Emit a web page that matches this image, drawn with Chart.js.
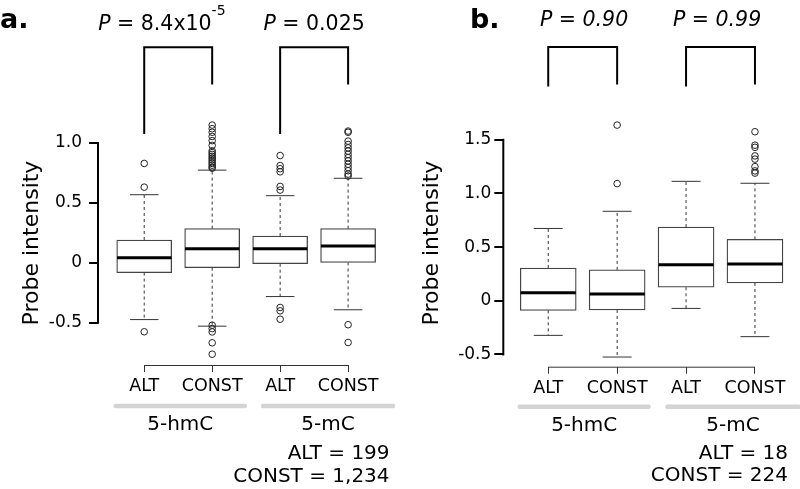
<!DOCTYPE html>
<html>
<head>
<meta charset="utf-8">
<title>Probe intensity: ALT vs CONST</title>
<script src="https://cdn.jsdelivr.net/npm/chart.js@4"></script>
<style>
  body { margin: 0; background: #fff; }
  #wrap { position: relative; width: 800px; height: 489px; }
  canvas { position: absolute; top: 0; }
</style>
</head>
<body>
<div id="wrap">
  <canvas id="panelA" width="400" height="489" style="left:0"></canvas>
  <canvas id="panelB" width="400" height="489" style="left:400px"></canvas>
</div>
<script>
const tickLabels = ['ALT', 'CONST', 'ALT', 'CONST'];
const groupLabels = ['5-hmC', '5-mC'];

// panel a
const aLowWhisker = [-0.473, -0.528, -0.281, -0.391];
const aQ1 = [-0.081, -0.040, -0.007, 0.004];
const aMedian = [0.043, 0.119, 0.119, 0.142];
const aQ3 = [0.191, 0.286, 0.224, 0.286];
const aHighWhisker = [0.569, 0.774, 0.561, 0.706];
const aOutliers = [
  [0.830, 0.632, -0.575],
  [1.15, 1.12, 1.09, 1.055, 1.02, 0.98, 0.935, 0.92, 0.905, 0.89, 0.875, 0.86, 0.845, 0.83, 0.815, 0.80, 0.79,
   -0.52, -0.548, -0.576, -0.667, -0.762],
  [0.896, 0.812, 0.786, 0.76, 0.638, 0.608, -0.372, -0.40, -0.47],
  [1.10, 1.09, 1.016, 0.988, 0.96, 0.933, 0.905, 0.878, 0.851, 0.823, 0.796, 0.769, 0.741, 0.725, -0.516, -0.664]
];
const aYTicks = [-0.5, 0, 0.5, 1.0];
const aBracketTop = [1.80, 1.80];
const aBracketLeftEnd = [1.076, 1.076];
const aBracketRightEnd = [1.488, 1.488];
const aPValues = ['8.4x10^-5', '0.025'];
const aCounts = ['ALT = 199', 'CONST = 1,234'];

// panel b
const bLowWhisker = [-0.322, -0.524, -0.071, -0.334];
const bQ1 = [-0.089, -0.086, 0.126, 0.166];
const bMedian = [0.074, 0.064, 0.337, 0.343];
const bQ3 = [0.306, 0.288, 0.687, 0.573];
const bHighWhisker = [0.674, 0.834, 1.113, 1.095];
const bOutliers = [
  [],
  [1.637, 1.092],
  [],
  [1.575, 1.45, 1.43, 1.35, 1.32, 1.25, 1.21, 1.19]
];
const bYTicks = [-0.5, 0, 0.5, 1.0, 1.5];
const bBracketTop = [2.364, 2.364];
const bBracketLeftEnd = [1.996, 1.996];
const bBracketRightEnd = [2.015, 2.015];
const bPValues = ['0.90', '0.99'];
const bCounts = ['ALT = 18', 'CONST = 224'];

const FONT = '"DejaVu Sans", "Liberation Sans", sans-serif';

function drawP(ctx, cx, baseline, value, allItalic, size) {
  const parts = value.split('^');
  const rest = ' = ' + parts[0];
  const sup = parts[1] || '';
  const ital = `italic ${size}px ${FONT}`;
  const reg = `${size}px ${FONT}`;
  const supFont = `${Math.round(size * 0.7)}px ${FONT}`;
  ctx.font = ital;
  const wP = ctx.measureText('P').width;
  ctx.font = allItalic ? ital : reg;
  const wR = ctx.measureText(rest).width;
  ctx.font = supFont;
  const wS = sup ? ctx.measureText(sup).width : 0;
  const x0 = cx - (wP + wR + wS) / 2;
  ctx.textAlign = 'left';
  ctx.textBaseline = 'alphabetic';
  ctx.font = ital;
  ctx.fillText('P', x0, baseline);
  ctx.font = allItalic ? ital : reg;
  ctx.fillText(rest, x0 + wP, baseline);
  if (sup) {
    ctx.font = supFont;
    ctx.fillText(sup, x0 + wP + wR, baseline - size * 0.75);
  }
}

// axis lines, group bars, labels, p-values
const panelDecor = {
  id: 'panelDecor',
  afterDraw(chart, args, o) {
    const {ctx, chartArea: area} = chart;
    const x = chart.scales.x, y = chart.scales.y;
    ctx.save();
    ctx.fillStyle = '#000';

    // R style y axis, only between first and last tick
    ctx.strokeStyle = '#000';
    ctx.lineWidth = 2;
    ctx.lineCap = 'square';
    ctx.beginPath();
    ctx.moveTo(area.left, y.getPixelForValue(o.yTicks[0]));
    ctx.lineTo(area.left, y.getPixelForValue(o.yTicks[o.yTicks.length - 1]));
    ctx.stroke();

    // x axis line between first and last box
    ctx.lineWidth = 1;
    ctx.lineCap = 'butt';
    ctx.strokeStyle = '#333';
    ctx.beginPath();
    ctx.moveTo(x.getPixelForValue(1), area.bottom + 0.5);
    ctx.lineTo(x.getPixelForValue(tickLabels.length), area.bottom + 0.5);
    ctx.stroke();

    // grey group bars and their labels
    ctx.strokeStyle = '#d3d3d3';
    ctx.lineWidth = 4.5;
    ctx.lineCap = 'round';
    ctx.font = `20px ${FONT}`;
    ctx.textAlign = 'center';
    ctx.textBaseline = 'middle';
    o.groupSpans.forEach((span, i) => {
      const x1 = x.getPixelForValue(span[0]);
      const x2 = x.getPixelForValue(span[1]);
      ctx.beginPath();
      ctx.moveTo(x1, area.bottom + o.barOffset);
      ctx.lineTo(x2, area.bottom + o.barOffset);
      ctx.stroke();
      ctx.fillText(groupLabels[i], (x1 + x2) / 2, area.bottom + o.groupOffset);
    });

    // sample sizes
    ctx.textAlign = 'right';
    o.counts.forEach((txt, i) => {
      ctx.fillText(txt, x.getPixelForValue(o.countsRight), area.bottom + o.countOffsets[i]);
    });

    // p-values above the brackets
    o.pValues.forEach((v, i) => {
      drawP(ctx, x.getPixelForValue(o.pX[i]), o.pBaseline, v, o.allItalic, 20.5);
    });

    // panel letter
    ctx.font = `bold 27px ${FONT}`;
    ctx.textAlign = 'left';
    ctx.textBaseline = 'alphabetic';
    ctx.fillText(o.letter, o.letterX, 28);

    // y title
    ctx.font = `22px ${FONT}`;
    ctx.textAlign = 'center';
    ctx.textBaseline = 'middle';
    ctx.translate(32, 243);
    ctx.rotate(-Math.PI / 2);
    ctx.fillText('Probe intensity', 0, 0);
    ctx.restore();
  }
};

function makePanel(id, s, L) {
  const boxes = [], medians = [], whiskers = [], caps = [], points = [], brackets = [];
  s.q1.forEach((q1, i) => {
    const c = i + 1;
    boxes.push({x: c, y: [q1, s.q3[i]]});
    medians.push({x: c - 0.4, y: s.med[i]}, {x: c + 0.4, y: s.med[i]}, {x: c, y: null});
    whiskers.push({x: c, y: s.q3[i]}, {x: c, y: s.high[i]}, {x: c, y: null});
    whiskers.push({x: c, y: q1}, {x: c, y: s.low[i]}, {x: c, y: null});
    caps.push({x: c - 0.21, y: s.high[i]}, {x: c + 0.21, y: s.high[i]}, {x: c, y: null});
    caps.push({x: c - 0.21, y: s.low[i]}, {x: c + 0.21, y: s.low[i]}, {x: c, y: null});
    s.outliers[i].forEach(v => points.push({x: c, y: v}));
  });
  s.bracketTop.forEach((top, k) => {
    const l = 2 * k + 1, r = 2 * k + 2;
    brackets.push({x: l, y: s.bracketLeft[k]}, {x: l, y: top}, {x: r, y: top},
                  {x: r, y: s.bracketRight[k]}, {x: r, y: null});
  });

  const lineBase = {type: 'line', pointRadius: 0, fill: false, tension: 0, spanGaps: false};

  return new Chart(document.getElementById(id), {
    type: 'bar',
    data: {
      datasets: [
        Object.assign({}, lineBase, {label: 'median', data: medians, borderColor: '#000', borderWidth: 3, order: 0}),
        {type: 'scatter', label: 'outliers', data: points, pointRadius: 3.3, pointBorderWidth: 1,
         borderColor: '#222', backgroundColor: 'rgba(0,0,0,0)', order: 1},
        Object.assign({}, lineBase, {label: 'brackets', data: brackets, borderColor: '#000', borderWidth: 2, order: 2}),
        Object.assign({}, lineBase, {label: 'caps', data: caps, borderColor: '#333', borderWidth: 1, order: 3}),
        Object.assign({}, lineBase, {label: 'whiskers', data: whiskers, borderColor: '#333', borderWidth: 1,
          borderDash: [3, 3], order: 4}),
        {type: 'bar', label: 'box', data: boxes, backgroundColor: '#fff', borderColor: '#444',
         borderWidth: 1.3, borderSkipped: false, barThickness: L.boxPx, grouped: false, order: 5}
      ]
    },
    options: {
      responsive: false,
      animation: false,
      devicePixelRatio: 1,
      layout: {padding: 0},
      events: [],
      plugins: {
        legend: {display: false},
        tooltip: {enabled: false},
        panelDecor: L.decor
      },
      scales: {
        x: {
          type: 'linear', min: L.xMin, max: L.xMax, offset: false,
          afterFit: sc => { sc.height = L.xHeight; sc.paddingLeft = 0; sc.paddingRight = 0; },
          afterBuildTicks: sc => { sc.ticks = tickLabels.map((t, i) => ({value: i + 1})); },
          ticks: {
            callback: v => tickLabels[v - 1],
            font: {family: FONT, size: 17.5}, color: '#000',
            padding: 4, maxRotation: 0, autoSkip: false
          },
          grid: {display: true, drawOnChartArea: false, drawTicks: true, tickLength: 7,
                 color: '#333', lineWidth: 1, offset: false},
          border: {display: false}
        },
        y: {
          type: 'linear', min: L.yMin, max: L.yMax,
          afterFit: sc => { sc.width = L.yWidth; sc.paddingTop = 0; sc.paddingBottom = 0; },
          afterBuildTicks: sc => { sc.ticks = s.yTicks.map(v => ({value: v})); },
          ticks: {
            callback: v => (v === 0 ? '0' : v.toFixed(1)),
            font: {family: FONT, size: 17}, color: '#000', padding: L.yPad
          },
          grid: {display: true, drawOnChartArea: false, drawTicks: true, tickLength: 9,
                 color: '#000', lineWidth: 2},
          border: {display: false}
        }
      }
    },
    plugins: [panelDecor]
  });
}

makePanel('panelA', {
  low: aLowWhisker, q1: aQ1, med: aMedian, q3: aQ3, high: aHighWhisker, outliers: aOutliers,
  yTicks: aYTicks, bracketTop: aBracketTop, bracketLeft: aBracketLeftEnd, bracketRight: aBracketRightEnd
}, {
  xMin: 0.320, xMax: 4.690, yMin: -0.852, yMax: 2.152,
  yWidth: 98, xHeight: 124, boxPx: 55, yPad: 7,
  decor: {
    yTicks: aYTicks, groupSpans: [[0.58, 2.48], [2.75, 4.66]], barOffset: 41, groupOffset: 60,
    counts: aCounts, countsRight: 4.61, countOffsets: [89, 111.5],
    pValues: aPValues, pX: [1.26, 3.5], pBaseline: 30, allItalic: false,
    letter: 'a.', letterX: 0
  }
});

makePanel('panelB', {
  low: bLowWhisker, q1: bQ1, med: bMedian, q3: bQ3, high: bHighWhisker, outliers: bOutliers,
  yTicks: bYTicks, bracketTop: bBracketTop, bracketLeft: bBracketLeftEnd, bracketRight: bBracketRightEnd
}, {
  xMin: 0.348, xMax: 4.581, yMin: -0.614, yMax: 2.756,
  yWidth: 103.3, xHeight: 122.3, boxPx: 56, yPad: 3,
  decor: {
    yTicks: bYTicks, groupSpans: [[0.586, 2.457], [2.73, 4.63]], barOffset: 40, groupOffset: 59.5,
    counts: bCounts, countsRight: 4.48, countOffsets: [87.5, 109.5],
    pValues: bPValues, pX: [1.52, 3.45], pBaseline: 26, allItalic: true,
    letter: 'b.', letterX: 70
  }
});
</script>
</body>
</html>
